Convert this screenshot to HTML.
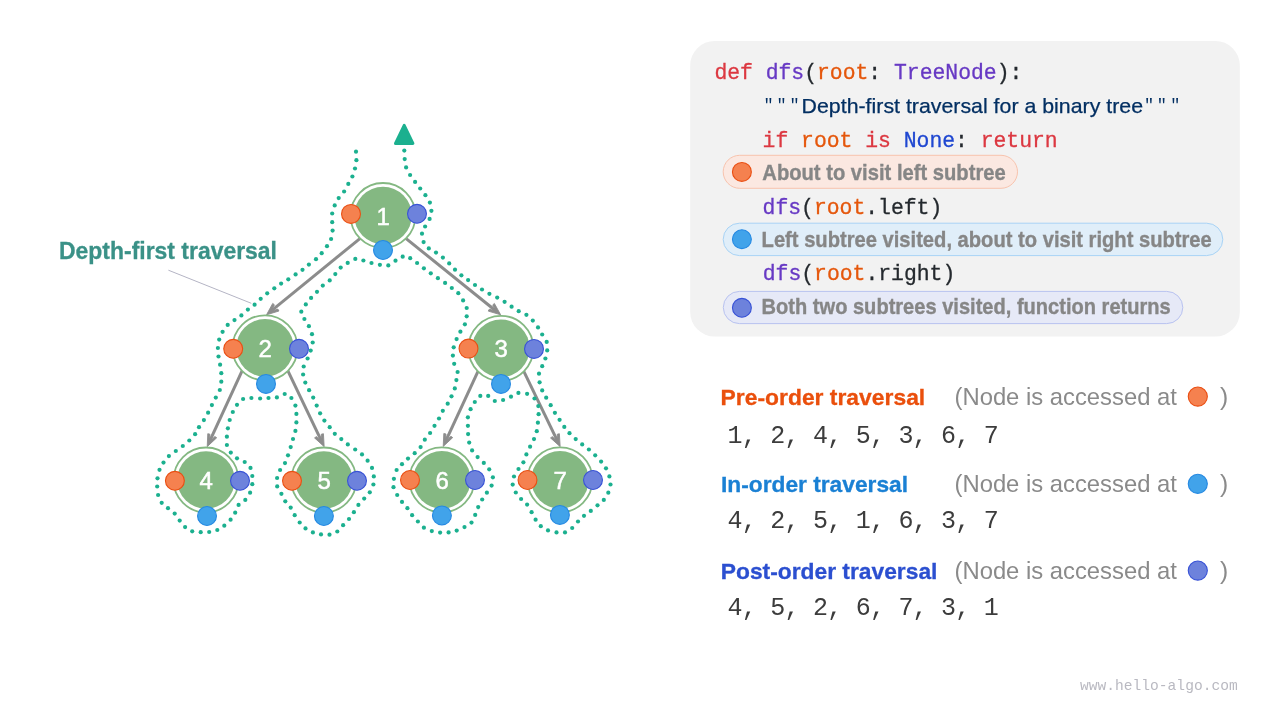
<!DOCTYPE html>
<html lang="en"><head><meta charset="utf-8"><title>Binary tree depth-first traversal</title>
<style>
html,body{margin:0;padding:0;background:#fff;}
body{width:1280px;height:720px;overflow:hidden;position:relative;}
svg{position:absolute;left:0;top:0;display:block;will-change:transform;}
text{font-family:"Liberation Sans", sans-serif;}
.m{font-family:"Liberation Mono", monospace;}
.b{font-weight:bold;}
</style></head><body>
<svg width="1280" height="720" viewBox="0 0 1280 720">
<g id="edges" stroke="#8c8c8c" stroke-width="3" fill="none" stroke-linecap="butt">
<line x1="360.2" y1="238.3" x2="272.5" y2="309.9"/>
<line x1="405.8" y1="238.3" x2="494.7" y2="310.0"/>
<line x1="242.2" y1="370.6" x2="210.4" y2="439.6"/>
<line x1="287.8" y1="370.6" x2="320.8" y2="439.7"/>
<line x1="478.1" y1="371.1" x2="446.5" y2="439.4"/>
<line x1="523.7" y1="371.1" x2="556.8" y2="439.7"/>
</g>
<g id="arrowheads" fill="#8c8c8c" stroke="#8c8c8c" stroke-width="0.9" stroke-linejoin="round">
<path d="M266.53 314.81L278.93 311.01L277.84 309.06L274.47 310.14L272.69 307.97L274.43 304.87L272.73 303.42Z"/>
<path d="M500.67 314.81L494.40 303.46L492.71 304.93L494.46 308.01L492.70 310.19L489.32 309.13L488.25 311.09Z"/>
<path d="M207.23 446.63L216.69 437.77L214.86 436.49L212.30 438.95L209.76 437.78L209.95 434.23L207.79 433.68Z"/>
<path d="M324.17 446.63L323.41 433.69L321.26 434.28L321.51 437.82L318.98 439.02L316.38 436.61L314.57 437.92Z"/>
<path d="M443.23 446.43L452.71 437.60L450.89 436.31L448.32 438.76L445.78 437.58L445.99 434.04L443.82 433.48Z"/>
<path d="M560.17 446.63L559.36 433.69L557.21 434.29L557.47 437.83L554.95 439.04L552.35 436.64L550.54 437.95Z"/>
</g>
<g id="path" fill="#1bb08f">
<circle cx="356.0" cy="151.7" r="2.1"/>
<circle cx="356.4" cy="160.2" r="2.1"/>
<circle cx="355.0" cy="168.5" r="2.1"/>
<circle cx="352.4" cy="176.5" r="2.1"/>
<circle cx="348.3" cy="183.9" r="2.1"/>
<circle cx="344.1" cy="191.5" r="2.1"/>
<circle cx="338.7" cy="198.1" r="2.1"/>
<circle cx="334.7" cy="205.4" r="2.1"/>
<circle cx="332.2" cy="213.5" r="2.1"/>
<circle cx="332.2" cy="222.2" r="2.1"/>
<circle cx="332.6" cy="230.6" r="2.1"/>
<circle cx="331.1" cy="239.0" r="2.1"/>
<circle cx="327.0" cy="246.2" r="2.1"/>
<circle cx="321.7" cy="253.2" r="2.1"/>
<circle cx="316.0" cy="259.2" r="2.1"/>
<circle cx="308.9" cy="264.6" r="2.1"/>
<circle cx="302.5" cy="269.8" r="2.1"/>
<circle cx="295.6" cy="274.4" r="2.1"/>
<circle cx="288.3" cy="279.3" r="2.1"/>
<circle cx="281.1" cy="283.6" r="2.1"/>
<circle cx="274.3" cy="288.3" r="2.1"/>
<circle cx="267.2" cy="293.3" r="2.1"/>
<circle cx="260.7" cy="298.8" r="2.1"/>
<circle cx="254.6" cy="304.7" r="2.1"/>
<circle cx="247.9" cy="309.6" r="2.1"/>
<circle cx="241.4" cy="315.4" r="2.1"/>
<circle cx="234.5" cy="320.1" r="2.1"/>
<circle cx="227.7" cy="324.9" r="2.1"/>
<circle cx="222.6" cy="331.8" r="2.1"/>
<circle cx="219.2" cy="339.6" r="2.1"/>
<circle cx="217.9" cy="348.0" r="2.1"/>
<circle cx="218.5" cy="356.5" r="2.1"/>
<circle cx="220.1" cy="364.7" r="2.1"/>
<circle cx="221.3" cy="373.2" r="2.1"/>
<circle cx="221.3" cy="381.7" r="2.1"/>
<circle cx="219.8" cy="390.0" r="2.1"/>
<circle cx="215.8" cy="397.6" r="2.1"/>
<circle cx="211.9" cy="405.1" r="2.1"/>
<circle cx="208.1" cy="412.7" r="2.1"/>
<circle cx="203.9" cy="420.1" r="2.1"/>
<circle cx="199.0" cy="427.2" r="2.1"/>
<circle cx="195.1" cy="434.2" r="2.1"/>
<circle cx="189.3" cy="440.5" r="2.1"/>
<circle cx="182.8" cy="446.0" r="2.1"/>
<circle cx="175.8" cy="451.0" r="2.1"/>
<circle cx="168.9" cy="456.1" r="2.1"/>
<circle cx="163.5" cy="462.6" r="2.1"/>
<circle cx="159.5" cy="469.8" r="2.1"/>
<circle cx="157.5" cy="478.3" r="2.1"/>
<circle cx="157.2" cy="486.5" r="2.1"/>
<circle cx="158.1" cy="495.0" r="2.1"/>
<circle cx="161.7" cy="502.8" r="2.1"/>
<circle cx="168.0" cy="508.2" r="2.1"/>
<circle cx="174.7" cy="513.6" r="2.1"/>
<circle cx="179.7" cy="520.6" r="2.1"/>
<circle cx="185.1" cy="527.1" r="2.1"/>
<circle cx="192.2" cy="531.3" r="2.1"/>
<circle cx="200.7" cy="532.2" r="2.1"/>
<circle cx="209.2" cy="532.0" r="2.1"/>
<circle cx="217.3" cy="530.0" r="2.1"/>
<circle cx="224.3" cy="525.7" r="2.1"/>
<circle cx="230.6" cy="519.7" r="2.1"/>
<circle cx="235.2" cy="512.7" r="2.1"/>
<circle cx="238.6" cy="504.9" r="2.1"/>
<circle cx="245.3" cy="499.9" r="2.1"/>
<circle cx="250.1" cy="492.7" r="2.1"/>
<circle cx="252.3" cy="484.2" r="2.1"/>
<circle cx="252.3" cy="476.0" r="2.1"/>
<circle cx="250.5" cy="467.9" r="2.1"/>
<circle cx="244.7" cy="462.0" r="2.1"/>
<circle cx="237.0" cy="458.3" r="2.1"/>
<circle cx="230.8" cy="452.6" r="2.1"/>
<circle cx="226.9" cy="445.0" r="2.1"/>
<circle cx="226.9" cy="436.7" r="2.1"/>
<circle cx="227.9" cy="428.3" r="2.1"/>
<circle cx="229.7" cy="420.0" r="2.1"/>
<circle cx="232.8" cy="412.0" r="2.1"/>
<circle cx="237.0" cy="404.8" r="2.1"/>
<circle cx="243.1" cy="399.0" r="2.1"/>
<circle cx="251.4" cy="398.0" r="2.1"/>
<circle cx="260.1" cy="398.5" r="2.1"/>
<circle cx="268.5" cy="398.0" r="2.1"/>
<circle cx="276.9" cy="397.4" r="2.1"/>
<circle cx="284.7" cy="394.0" r="2.1"/>
<circle cx="291.4" cy="398.0" r="2.1"/>
<circle cx="295.4" cy="405.6" r="2.1"/>
<circle cx="296.4" cy="413.9" r="2.1"/>
<circle cx="296.4" cy="422.4" r="2.1"/>
<circle cx="295.4" cy="430.9" r="2.1"/>
<circle cx="293.0" cy="439.0" r="2.1"/>
<circle cx="290.7" cy="447.1" r="2.1"/>
<circle cx="288.0" cy="455.3" r="2.1"/>
<circle cx="285.0" cy="463.1" r="2.1"/>
<circle cx="280.1" cy="470.0" r="2.1"/>
<circle cx="277.1" cy="478.0" r="2.1"/>
<circle cx="277.2" cy="486.4" r="2.1"/>
<circle cx="281.4" cy="493.8" r="2.1"/>
<circle cx="285.3" cy="501.3" r="2.1"/>
<circle cx="290.7" cy="507.6" r="2.1"/>
<circle cx="294.7" cy="515.2" r="2.1"/>
<circle cx="299.7" cy="522.5" r="2.1"/>
<circle cx="305.5" cy="528.4" r="2.1"/>
<circle cx="312.9" cy="532.4" r="2.1"/>
<circle cx="321.0" cy="534.4" r="2.1"/>
<circle cx="329.5" cy="534.7" r="2.1"/>
<circle cx="337.3" cy="531.5" r="2.1"/>
<circle cx="343.1" cy="525.2" r="2.1"/>
<circle cx="349.0" cy="519.0" r="2.1"/>
<circle cx="353.9" cy="512.2" r="2.1"/>
<circle cx="358.4" cy="504.9" r="2.1"/>
<circle cx="364.2" cy="498.6" r="2.1"/>
<circle cx="369.8" cy="492.3" r="2.1"/>
<circle cx="373.4" cy="484.5" r="2.1"/>
<circle cx="373.8" cy="476.4" r="2.1"/>
<circle cx="372.0" cy="467.9" r="2.1"/>
<circle cx="367.6" cy="460.7" r="2.1"/>
<circle cx="362.0" cy="454.4" r="2.1"/>
<circle cx="355.2" cy="449.5" r="2.1"/>
<circle cx="347.8" cy="444.4" r="2.1"/>
<circle cx="341.3" cy="439.1" r="2.1"/>
<circle cx="334.8" cy="433.8" r="2.1"/>
<circle cx="329.7" cy="427.2" r="2.1"/>
<circle cx="324.4" cy="420.6" r="2.1"/>
<circle cx="320.1" cy="413.3" r="2.1"/>
<circle cx="316.7" cy="405.6" r="2.1"/>
<circle cx="313.2" cy="397.6" r="2.1"/>
<circle cx="309.1" cy="390.2" r="2.1"/>
<circle cx="305.3" cy="382.6" r="2.1"/>
<circle cx="303.1" cy="374.5" r="2.1"/>
<circle cx="303.7" cy="366.5" r="2.1"/>
<circle cx="307.6" cy="358.5" r="2.1"/>
<circle cx="310.7" cy="350.6" r="2.1"/>
<circle cx="312.7" cy="342.5" r="2.1"/>
<circle cx="312.0" cy="334.2" r="2.1"/>
<circle cx="308.9" cy="326.2" r="2.1"/>
<circle cx="304.4" cy="319.0" r="2.1"/>
<circle cx="301.3" cy="311.7" r="2.1"/>
<circle cx="305.8" cy="304.4" r="2.1"/>
<circle cx="311.1" cy="297.9" r="2.1"/>
<circle cx="317.0" cy="291.8" r="2.1"/>
<circle cx="322.8" cy="285.6" r="2.1"/>
<circle cx="329.7" cy="280.4" r="2.1"/>
<circle cx="335.3" cy="274.1" r="2.1"/>
<circle cx="340.7" cy="267.6" r="2.1"/>
<circle cx="347.7" cy="262.9" r="2.1"/>
<circle cx="355.3" cy="258.9" r="2.1"/>
<circle cx="363.4" cy="260.5" r="2.1"/>
<circle cx="371.5" cy="263.0" r="2.1"/>
<circle cx="379.9" cy="264.8" r="2.1"/>
<circle cx="388.3" cy="265.4" r="2.1"/>
<circle cx="395.5" cy="260.7" r="2.1"/>
<circle cx="402.7" cy="256.7" r="2.1"/>
<circle cx="410.2" cy="258.2" r="2.1"/>
<circle cx="417.1" cy="263.0" r="2.1"/>
<circle cx="423.9" cy="268.3" r="2.1"/>
<circle cx="430.8" cy="273.3" r="2.1"/>
<circle cx="437.9" cy="278.2" r="2.1"/>
<circle cx="445.1" cy="282.9" r="2.1"/>
<circle cx="451.8" cy="288.0" r="2.1"/>
<circle cx="458.3" cy="293.2" r="2.1"/>
<circle cx="463.1" cy="300.4" r="2.1"/>
<circle cx="466.7" cy="308.0" r="2.1"/>
<circle cx="466.7" cy="316.3" r="2.1"/>
<circle cx="464.9" cy="324.3" r="2.1"/>
<circle cx="460.4" cy="331.7" r="2.1"/>
<circle cx="456.6" cy="339.1" r="2.1"/>
<circle cx="453.7" cy="347.3" r="2.1"/>
<circle cx="452.9" cy="355.6" r="2.1"/>
<circle cx="454.2" cy="363.8" r="2.1"/>
<circle cx="457.6" cy="372.0" r="2.1"/>
<circle cx="456.4" cy="380.1" r="2.1"/>
<circle cx="454.8" cy="388.4" r="2.1"/>
<circle cx="451.5" cy="396.3" r="2.1"/>
<circle cx="447.7" cy="403.7" r="2.1"/>
<circle cx="442.8" cy="410.8" r="2.1"/>
<circle cx="439.0" cy="418.5" r="2.1"/>
<circle cx="434.5" cy="425.8" r="2.1"/>
<circle cx="430.1" cy="433.0" r="2.1"/>
<circle cx="424.8" cy="439.7" r="2.1"/>
<circle cx="420.6" cy="447.1" r="2.1"/>
<circle cx="414.7" cy="453.2" r="2.1"/>
<circle cx="408.0" cy="458.6" r="2.1"/>
<circle cx="402.0" cy="464.2" r="2.1"/>
<circle cx="396.6" cy="470.0" r="2.1"/>
<circle cx="393.9" cy="478.8" r="2.1"/>
<circle cx="393.5" cy="487.2" r="2.1"/>
<circle cx="397.2" cy="495.0" r="2.1"/>
<circle cx="402.0" cy="501.9" r="2.1"/>
<circle cx="407.4" cy="508.2" r="2.1"/>
<circle cx="412.1" cy="515.2" r="2.1"/>
<circle cx="417.9" cy="521.5" r="2.1"/>
<circle cx="423.9" cy="527.7" r="2.1"/>
<circle cx="431.8" cy="531.1" r="2.1"/>
<circle cx="440.1" cy="532.6" r="2.1"/>
<circle cx="448.6" cy="532.4" r="2.1"/>
<circle cx="456.7" cy="530.6" r="2.1"/>
<circle cx="464.5" cy="527.1" r="2.1"/>
<circle cx="471.5" cy="522.6" r="2.1"/>
<circle cx="475.2" cy="514.9" r="2.1"/>
<circle cx="478.2" cy="507.1" r="2.1"/>
<circle cx="482.2" cy="499.5" r="2.1"/>
<circle cx="486.9" cy="492.7" r="2.1"/>
<circle cx="491.6" cy="485.6" r="2.1"/>
<circle cx="492.9" cy="477.3" r="2.1"/>
<circle cx="489.2" cy="469.3" r="2.1"/>
<circle cx="483.8" cy="462.9" r="2.1"/>
<circle cx="477.6" cy="457.1" r="2.1"/>
<circle cx="472.1" cy="450.4" r="2.1"/>
<circle cx="469.2" cy="442.6" r="2.1"/>
<circle cx="468.1" cy="434.1" r="2.1"/>
<circle cx="467.9" cy="425.8" r="2.1"/>
<circle cx="467.9" cy="417.3" r="2.1"/>
<circle cx="470.6" cy="409.2" r="2.1"/>
<circle cx="474.8" cy="402.0" r="2.1"/>
<circle cx="480.3" cy="395.9" r="2.1"/>
<circle cx="488.2" cy="395.9" r="2.1"/>
<circle cx="494.8" cy="401.0" r="2.1"/>
<circle cx="503.1" cy="400.0" r="2.1"/>
<circle cx="511.0" cy="396.7" r="2.1"/>
<circle cx="518.4" cy="392.9" r="2.1"/>
<circle cx="527.1" cy="393.8" r="2.1"/>
<circle cx="534.5" cy="398.5" r="2.1"/>
<circle cx="538.3" cy="406.1" r="2.1"/>
<circle cx="538.6" cy="414.2" r="2.1"/>
<circle cx="537.9" cy="422.7" r="2.1"/>
<circle cx="536.8" cy="431.2" r="2.1"/>
<circle cx="534.0" cy="439.1" r="2.1"/>
<circle cx="530.1" cy="446.7" r="2.1"/>
<circle cx="526.4" cy="454.4" r="2.1"/>
<circle cx="523.4" cy="462.3" r="2.1"/>
<circle cx="518.5" cy="469.0" r="2.1"/>
<circle cx="514.0" cy="476.5" r="2.1"/>
<circle cx="512.7" cy="484.6" r="2.1"/>
<circle cx="515.8" cy="492.5" r="2.1"/>
<circle cx="521.1" cy="499.0" r="2.1"/>
<circle cx="527.1" cy="504.6" r="2.1"/>
<circle cx="531.6" cy="512.2" r="2.1"/>
<circle cx="535.6" cy="519.7" r="2.1"/>
<circle cx="540.8" cy="526.2" r="2.1"/>
<circle cx="548.0" cy="530.4" r="2.1"/>
<circle cx="556.5" cy="532.4" r="2.1"/>
<circle cx="565.0" cy="532.4" r="2.1"/>
<circle cx="572.2" cy="528.0" r="2.1"/>
<circle cx="578.0" cy="521.5" r="2.1"/>
<circle cx="584.0" cy="515.8" r="2.1"/>
<circle cx="590.8" cy="510.9" r="2.1"/>
<circle cx="597.5" cy="505.3" r="2.1"/>
<circle cx="603.8" cy="499.9" r="2.1"/>
<circle cx="608.3" cy="492.7" r="2.1"/>
<circle cx="610.5" cy="484.5" r="2.1"/>
<circle cx="609.4" cy="476.4" r="2.1"/>
<circle cx="606.0" cy="468.3" r="2.1"/>
<circle cx="601.1" cy="461.6" r="2.1"/>
<circle cx="595.2" cy="455.3" r="2.1"/>
<circle cx="588.9" cy="449.5" r="2.1"/>
<circle cx="582.2" cy="444.4" r="2.1"/>
<circle cx="575.7" cy="439.1" r="2.1"/>
<circle cx="569.5" cy="433.2" r="2.1"/>
<circle cx="564.3" cy="426.9" r="2.1"/>
<circle cx="559.6" cy="419.8" r="2.1"/>
<circle cx="554.9" cy="412.8" r="2.1"/>
<circle cx="550.7" cy="405.2" r="2.1"/>
<circle cx="546.2" cy="397.7" r="2.1"/>
<circle cx="542.2" cy="390.4" r="2.1"/>
<circle cx="539.6" cy="382.3" r="2.1"/>
<circle cx="539.0" cy="373.7" r="2.1"/>
<circle cx="542.2" cy="366.2" r="2.1"/>
<circle cx="545.4" cy="358.5" r="2.1"/>
<circle cx="547.2" cy="350.4" r="2.1"/>
<circle cx="546.7" cy="341.9" r="2.1"/>
<circle cx="542.2" cy="334.5" r="2.1"/>
<circle cx="538.0" cy="327.4" r="2.1"/>
<circle cx="532.8" cy="320.6" r="2.1"/>
<circle cx="526.4" cy="314.8" r="2.1"/>
<circle cx="518.7" cy="311.2" r="2.1"/>
<circle cx="511.6" cy="306.7" r="2.1"/>
<circle cx="504.6" cy="301.8" r="2.1"/>
<circle cx="497.2" cy="297.6" r="2.1"/>
<circle cx="489.4" cy="293.8" r="2.1"/>
<circle cx="482.0" cy="289.5" r="2.1"/>
<circle cx="475.0" cy="285.0" r="2.1"/>
<circle cx="468.1" cy="280.1" r="2.1"/>
<circle cx="461.4" cy="275.3" r="2.1"/>
<circle cx="455.0" cy="269.7" r="2.1"/>
<circle cx="449.2" cy="263.4" r="2.1"/>
<circle cx="442.9" cy="257.6" r="2.1"/>
<circle cx="436.0" cy="252.6" r="2.1"/>
<circle cx="428.8" cy="248.4" r="2.1"/>
<circle cx="423.6" cy="242.1" r="2.1"/>
<circle cx="422.0" cy="233.7" r="2.1"/>
<circle cx="425.1" cy="226.5" r="2.1"/>
<circle cx="429.6" cy="218.9" r="2.1"/>
<circle cx="431.4" cy="210.8" r="2.1"/>
<circle cx="429.9" cy="202.6" r="2.1"/>
<circle cx="425.4" cy="195.2" r="2.1"/>
<circle cx="420.2" cy="188.5" r="2.1"/>
<circle cx="415.1" cy="181.9" r="2.1"/>
<circle cx="410.1" cy="175.0" r="2.1"/>
<circle cx="406.1" cy="167.4" r="2.1"/>
<circle cx="404.7" cy="159.1" r="2.1"/>
<circle cx="404.3" cy="150.6" r="2.1"/>
</g>
<path d="M404.2 125.4L412.9 143.4L395.5 143.4Z" fill="#1bb08f" stroke="#1bb08f" stroke-width="3" stroke-linejoin="round"/>
<line x1="168.4" y1="270.2" x2="251.3" y2="303.3" stroke="#b4b4c4" stroke-width="1"/>
<circle cx="383.0" cy="215.5" r="32.5" fill="#fff" stroke="#84b882" stroke-width="1.8"/>
<circle cx="383.0" cy="215.5" r="28.8" fill="#84b882"/>
<text x="383.3" y="224.5" font-size="24" fill="#fff" stroke="#fff" stroke-width="0.5" text-anchor="middle">1</text>
<circle cx="351.0" cy="213.9" r="9.45" fill="#f5814f" stroke="#ea4e12" stroke-width="1.1"/>
<circle cx="417.0" cy="213.8" r="9.45" fill="#6d82dc" stroke="#3852d6" stroke-width="1.1"/>
<circle cx="383.0" cy="250.0" r="9.45" fill="#41a3ea" stroke="#2589e2" stroke-width="1.1"/>
<circle cx="265.0" cy="347.8" r="32.5" fill="#fff" stroke="#84b882" stroke-width="1.8"/>
<circle cx="265.0" cy="347.8" r="28.8" fill="#84b882"/>
<text x="265.3" y="356.8" font-size="24" fill="#fff" stroke="#fff" stroke-width="0.5" text-anchor="middle">2</text>
<circle cx="233.2" cy="348.8" r="9.45" fill="#f5814f" stroke="#ea4e12" stroke-width="1.1"/>
<circle cx="299.0" cy="348.8" r="9.45" fill="#6d82dc" stroke="#3852d6" stroke-width="1.1"/>
<circle cx="266.0" cy="383.9" r="9.45" fill="#41a3ea" stroke="#2589e2" stroke-width="1.1"/>
<circle cx="500.9" cy="348.3" r="32.5" fill="#fff" stroke="#84b882" stroke-width="1.8"/>
<circle cx="500.9" cy="348.3" r="28.8" fill="#84b882"/>
<text x="501.2" y="357.3" font-size="24" fill="#fff" stroke="#fff" stroke-width="0.5" text-anchor="middle">3</text>
<circle cx="468.5" cy="348.6" r="9.45" fill="#f5814f" stroke="#ea4e12" stroke-width="1.1"/>
<circle cx="534.0" cy="348.9" r="9.45" fill="#6d82dc" stroke="#3852d6" stroke-width="1.1"/>
<circle cx="501.0" cy="383.9" r="9.45" fill="#41a3ea" stroke="#2589e2" stroke-width="1.1"/>
<circle cx="206.0" cy="480.0" r="32.5" fill="#fff" stroke="#84b882" stroke-width="1.8"/>
<circle cx="206.0" cy="480.0" r="28.8" fill="#84b882"/>
<text x="206.3" y="489.0" font-size="24" fill="#fff" stroke="#fff" stroke-width="0.5" text-anchor="middle">4</text>
<circle cx="174.9" cy="480.8" r="9.45" fill="#f5814f" stroke="#ea4e12" stroke-width="1.1"/>
<circle cx="240.0" cy="480.8" r="9.45" fill="#6d82dc" stroke="#3852d6" stroke-width="1.1"/>
<circle cx="207.0" cy="516.0" r="9.45" fill="#41a3ea" stroke="#2589e2" stroke-width="1.1"/>
<circle cx="323.8" cy="480.0" r="32.5" fill="#fff" stroke="#84b882" stroke-width="1.8"/>
<circle cx="323.8" cy="480.0" r="28.8" fill="#84b882"/>
<text x="324.1" y="489.0" font-size="24" fill="#fff" stroke="#fff" stroke-width="0.5" text-anchor="middle">5</text>
<circle cx="292.0" cy="480.8" r="9.45" fill="#f5814f" stroke="#ea4e12" stroke-width="1.1"/>
<circle cx="357.0" cy="480.8" r="9.45" fill="#6d82dc" stroke="#3852d6" stroke-width="1.1"/>
<circle cx="323.9" cy="516.0" r="9.45" fill="#41a3ea" stroke="#2589e2" stroke-width="1.1"/>
<circle cx="441.9" cy="479.8" r="32.5" fill="#fff" stroke="#84b882" stroke-width="1.8"/>
<circle cx="441.9" cy="479.8" r="28.8" fill="#84b882"/>
<text x="442.2" y="488.8" font-size="24" fill="#fff" stroke="#fff" stroke-width="0.5" text-anchor="middle">6</text>
<circle cx="410.0" cy="480.0" r="9.45" fill="#f5814f" stroke="#ea4e12" stroke-width="1.1"/>
<circle cx="475.0" cy="480.0" r="9.45" fill="#6d82dc" stroke="#3852d6" stroke-width="1.1"/>
<circle cx="441.9" cy="515.4" r="9.45" fill="#41a3ea" stroke="#2589e2" stroke-width="1.1"/>
<circle cx="560.0" cy="479.8" r="32.5" fill="#fff" stroke="#84b882" stroke-width="1.8"/>
<circle cx="560.0" cy="479.8" r="28.8" fill="#84b882"/>
<text x="560.3" y="488.8" font-size="24" fill="#fff" stroke="#fff" stroke-width="0.5" text-anchor="middle">7</text>
<circle cx="527.5" cy="480.0" r="9.45" fill="#f5814f" stroke="#ea4e12" stroke-width="1.1"/>
<circle cx="593.0" cy="480.0" r="9.45" fill="#6d82dc" stroke="#3852d6" stroke-width="1.1"/>
<circle cx="559.9" cy="514.9" r="9.45" fill="#41a3ea" stroke="#2589e2" stroke-width="1.1"/>
<text class="b" x="59" y="258.6" font-size="24" fill="#3a9187" stroke="#3a9187" stroke-width="0.3" textLength="218" lengthAdjust="spacingAndGlyphs">Depth-first traversal</text>
<rect x="690.2" y="41" width="549.6" height="295.5" rx="24.5" fill="#f2f2f2"/>
<text class="m" x="714.4" y="78.8" font-size="21.4" xml:space="preserve"><tspan fill="#dc3841" stroke="#dc3841" stroke-width="0.3" x="714.40" textLength="38.49" lengthAdjust="spacing">def</tspan><tspan fill="#24292e" stroke="#24292e" stroke-width="0.3" x="752.89" textLength="12.83" lengthAdjust="spacing"> </tspan><tspan fill="#6739c4" stroke="#6739c4" stroke-width="0.3" x="765.72" textLength="38.49" lengthAdjust="spacing">dfs</tspan><tspan fill="#24292e" stroke="#24292e" stroke-width="0.3" x="804.21" textLength="12.83" lengthAdjust="spacing">(</tspan><tspan fill="#e5570c" stroke="#e5570c" stroke-width="0.3" x="817.04" textLength="51.32" lengthAdjust="spacing">root</tspan><tspan fill="#24292e" stroke="#24292e" stroke-width="0.3" x="868.36" textLength="12.83" lengthAdjust="spacing">:</tspan><tspan fill="#24292e" stroke="#24292e" stroke-width="0.3" x="881.19" textLength="12.83" lengthAdjust="spacing"> </tspan><tspan fill="#6739c4" stroke="#6739c4" stroke-width="0.3" x="894.02" textLength="102.64" lengthAdjust="spacing">TreeNode</tspan><tspan fill="#24292e" stroke="#24292e" stroke-width="0.3" x="996.66" textLength="25.66" lengthAdjust="spacing">):</tspan></text>
<text class="m" x="768.5" y="109.6" font-size="16.8" fill="#032f62" text-anchor="middle">&quot;</text>
<text class="m" x="781.6" y="109.6" font-size="16.8" fill="#032f62" text-anchor="middle">&quot;</text>
<text class="m" x="794.5" y="109.6" font-size="16.8" fill="#032f62" text-anchor="middle">&quot;</text>
<text x="801.6" y="112.5" font-size="21" fill="#032f62" stroke="#032f62" stroke-width="0.25" textLength="341.4" lengthAdjust="spacingAndGlyphs">Depth-first traversal for a binary tree</text>
<text class="m" x="1149.0" y="109.6" font-size="16.8" fill="#032f62" text-anchor="middle">&quot;</text>
<text class="m" x="1161.9" y="109.6" font-size="16.8" fill="#032f62" text-anchor="middle">&quot;</text>
<text class="m" x="1175.2" y="109.6" font-size="16.8" fill="#032f62" text-anchor="middle">&quot;</text>
<text class="m" x="762.6" y="146.6" font-size="21.4" xml:space="preserve"><tspan fill="#dc3841" stroke="#dc3841" stroke-width="0.3" x="762.60" textLength="25.66" lengthAdjust="spacing">if</tspan><tspan fill="#24292e" stroke="#24292e" stroke-width="0.3" x="788.26" textLength="12.83" lengthAdjust="spacing"> </tspan><tspan fill="#e5570c" stroke="#e5570c" stroke-width="0.3" x="801.09" textLength="51.32" lengthAdjust="spacing">root</tspan><tspan fill="#24292e" stroke="#24292e" stroke-width="0.3" x="852.41" textLength="12.83" lengthAdjust="spacing"> </tspan><tspan fill="#dc3841" stroke="#dc3841" stroke-width="0.3" x="865.24" textLength="25.66" lengthAdjust="spacing">is</tspan><tspan fill="#24292e" stroke="#24292e" stroke-width="0.3" x="890.90" textLength="12.83" lengthAdjust="spacing"> </tspan><tspan fill="#1f47d1" stroke="#1f47d1" stroke-width="0.3" x="903.73" textLength="51.32" lengthAdjust="spacing">None</tspan><tspan fill="#24292e" stroke="#24292e" stroke-width="0.3" x="955.05" textLength="12.83" lengthAdjust="spacing">:</tspan><tspan fill="#24292e" stroke="#24292e" stroke-width="0.3" x="967.88" textLength="12.83" lengthAdjust="spacing"> </tspan><tspan fill="#dc3841" stroke="#dc3841" stroke-width="0.3" x="980.71" textLength="76.98" lengthAdjust="spacing">return</tspan></text>
<text class="m" x="762.6" y="213.8" font-size="21.4" xml:space="preserve"><tspan fill="#6739c4" stroke="#6739c4" stroke-width="0.3" x="762.60" textLength="38.49" lengthAdjust="spacing">dfs</tspan><tspan fill="#24292e" stroke="#24292e" stroke-width="0.3" x="801.09" textLength="12.83" lengthAdjust="spacing">(</tspan><tspan fill="#e5570c" stroke="#e5570c" stroke-width="0.3" x="813.92" textLength="51.32" lengthAdjust="spacing">root</tspan><tspan fill="#24292e" stroke="#24292e" stroke-width="0.3" x="865.24" textLength="76.98" lengthAdjust="spacing">.left)</tspan></text>
<text class="m" x="762.8" y="280.4" font-size="21.4" xml:space="preserve"><tspan fill="#6739c4" stroke="#6739c4" stroke-width="0.3" x="762.80" textLength="38.49" lengthAdjust="spacing">dfs</tspan><tspan fill="#24292e" stroke="#24292e" stroke-width="0.3" x="801.29" textLength="12.83" lengthAdjust="spacing">(</tspan><tspan fill="#e5570c" stroke="#e5570c" stroke-width="0.3" x="814.12" textLength="51.32" lengthAdjust="spacing">root</tspan><tspan fill="#24292e" stroke="#24292e" stroke-width="0.3" x="865.44" textLength="89.81" lengthAdjust="spacing">.right)</tspan></text>
<rect x="723.2" y="155.3" width="294.3" height="33.0" rx="16.5" fill="#fbe8e1" stroke="#f8c3ad" stroke-width="1"/>
<circle cx="741.9" cy="171.9" r="9.45" fill="#f5814f" stroke="#ea4e12" stroke-width="1.1"/>
<text class="b" x="762.3" y="179.7" font-size="21.4" fill="#868686" stroke="#868686" stroke-width="0.35" textLength="243.4" lengthAdjust="spacingAndGlyphs">About to visit left subtree</text>
<rect x="723.2" y="223.2" width="499.6" height="32.4" rx="16.2" fill="#e0eef9" stroke="#a8d3f5" stroke-width="1"/>
<circle cx="741.9" cy="239.2" r="9.45" fill="#41a3ea" stroke="#2589e2" stroke-width="1.1"/>
<text class="b" x="761.6" y="246.9" font-size="21.4" fill="#868686" stroke="#868686" stroke-width="0.35" textLength="450.2" lengthAdjust="spacingAndGlyphs">Left subtree visited, about to visit right subtree</text>
<rect x="723.3" y="291.4" width="459.5" height="32.2" rx="16.1" fill="#e6e9f7" stroke="#b8c2f0" stroke-width="1"/>
<circle cx="741.9" cy="307.8" r="9.45" fill="#6d82dc" stroke="#3852d6" stroke-width="1.1"/>
<text class="b" x="761.6" y="314.3" font-size="21.4" fill="#868686" stroke="#868686" stroke-width="0.35" textLength="409.1" lengthAdjust="spacingAndGlyphs">Both two subtrees visited, function returns</text>
<text class="b" x="720.6" y="404.6" font-size="22.5" fill="#ea4f0c" stroke="#ea4f0c" stroke-width="0.3" textLength="204.6" lengthAdjust="spacingAndGlyphs">Pre-order traversal</text>
<text x="954.5" y="404.8" font-size="24.6" fill="#8a8a8a" textLength="222.4" lengthAdjust="spacingAndGlyphs">(Node is accessed at</text>
<circle cx="1197.8" cy="396.6" r="9.55" fill="#f5814f" stroke="#ea4e12" stroke-width="1.1"/>
<text x="1220" y="404.8" font-size="24.6" fill="#8a8a8a">)</text>
<text class="m" x="727.6" y="442.5" font-size="25" fill="#3c3c3c" textLength="271.2" lengthAdjust="spacing" xml:space="preserve">1, 2, 4, 5, 3, 6, 7</text>
<text class="b" x="721.0" y="491.8" font-size="22.5" fill="#1a80d4" stroke="#1a80d4" stroke-width="0.3" textLength="187.0" lengthAdjust="spacingAndGlyphs">In-order traversal</text>
<text x="954.5" y="492.0" font-size="24.6" fill="#8a8a8a" textLength="222.4" lengthAdjust="spacingAndGlyphs">(Node is accessed at</text>
<circle cx="1197.8" cy="483.8" r="9.55" fill="#41a3ea" stroke="#2589e2" stroke-width="1.1"/>
<text x="1220" y="492.0" font-size="24.6" fill="#8a8a8a">)</text>
<text class="m" x="727.6" y="528.4" font-size="25" fill="#3c3c3c" textLength="271.2" lengthAdjust="spacing" xml:space="preserve">4, 2, 5, 1, 6, 3, 7</text>
<text class="b" x="720.8" y="578.6" font-size="22.5" fill="#2b4fd0" stroke="#2b4fd0" stroke-width="0.3" textLength="216.6" lengthAdjust="spacingAndGlyphs">Post-order traversal</text>
<text x="954.5" y="578.8000000000001" font-size="24.6" fill="#8a8a8a" textLength="222.4" lengthAdjust="spacingAndGlyphs">(Node is accessed at</text>
<circle cx="1197.8" cy="570.6" r="9.55" fill="#6d82dc" stroke="#3852d6" stroke-width="1.1"/>
<text x="1220" y="578.8000000000001" font-size="24.6" fill="#8a8a8a">)</text>
<text class="m" x="727.6" y="614.9" font-size="25" fill="#3c3c3c" textLength="271.2" lengthAdjust="spacing" xml:space="preserve">4, 5, 2, 6, 7, 3, 1</text>
<text class="m" x="1080" y="689.8" font-size="14.6" fill="#b9b9c1" textLength="157.7" lengthAdjust="spacing">www.hello-algo.com</text>
</svg></body></html>
